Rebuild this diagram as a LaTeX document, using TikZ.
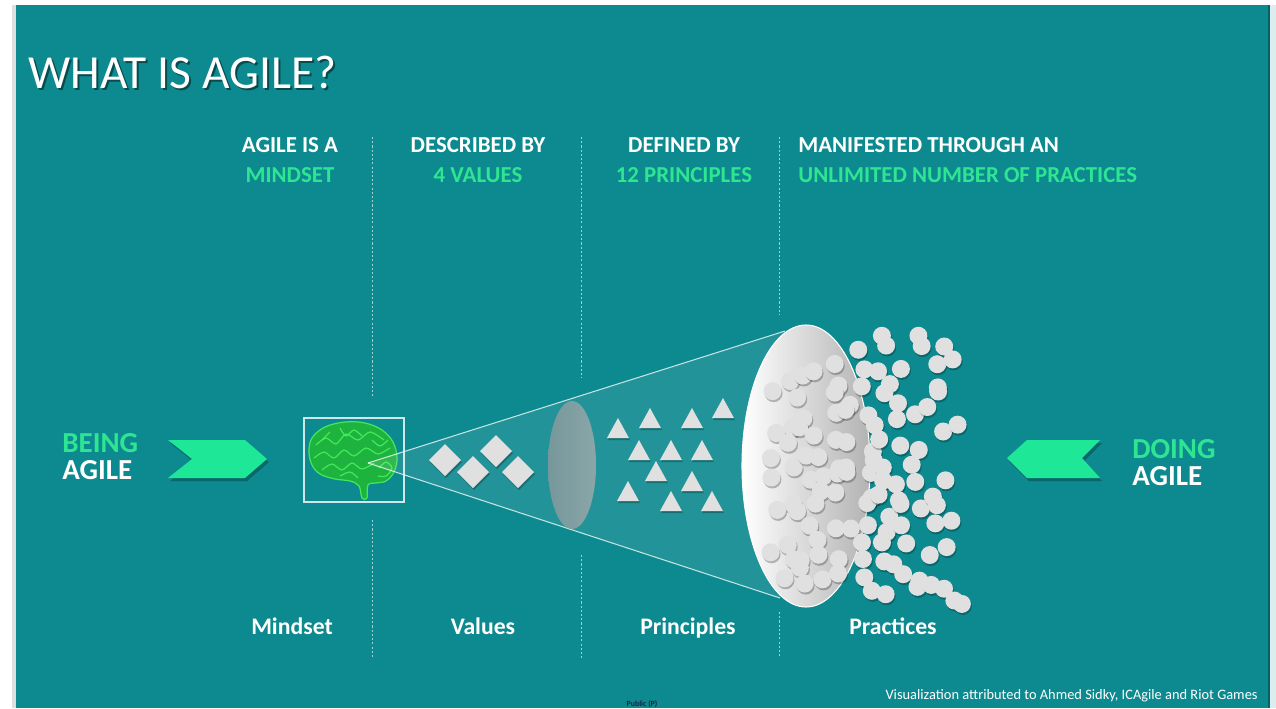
\documentclass[tikz,border=0pt]{standalone}
\usepackage{fontspec}
\setmainfont{Carlito}
\usetikzlibrary{calc}
\definecolor{agileteal}{RGB}{13,138,143}
\definecolor{agilegreen}{RGB}{46,230,146}
\definecolor{arrowgreen}{RGB}{30,232,152}
\definecolor{pillgray}{RGB}{224,224,224}
\definecolor{braingreen}{RGB}{30,178,62}
\definecolor{gyrusgreen}{RGB}{70,240,90}
\definecolor{publicblue}{RGB}{24,36,70}
\tikzset{
  hdr/.style={anchor=base, inner sep=0pt, text=white, font=\bfseries\fontsize{13}{15}\selectfont},
  hdrgreen/.style={hdr, text=agilegreen},
  lbl/.style={anchor=base, inner sep=0pt, text=white, font=\bfseries\fontsize{13.5}{15}\selectfont},
  sideword/.style={anchor=base west, inner sep=0pt, font=\bfseries\fontsize{16.5}{18}\selectfont},
  sepline/.style={white, opacity=0.6, line width=0.5pt, dash pattern=on 1.2pt off 1.2pt},
  coneline/.style={white, opacity=0.75, line width=0.6pt},
  shapeshadow/.style={black, opacity=0.25},
  token/.style={fill=pillgray},
  gyrus/.style={gyrusgreen, line width=0.7pt, opacity=0.9}
}
\begin{document}
\begin{tikzpicture}[x=0.02cm,y=-0.02cm]
\useasboundingbox (0,0) rectangle (1276,708);
% page and slide background
\fill[white] (0,0) rectangle (1276,708);
\fill[gray!25] (12,5) rectangle (16,708);
\fill[agileteal] (16,5) rectangle (1268,708);
\fill[agileteal!70!black] (1268,5) rectangle (1270,708);
\fill[agileteal!15!white] (1270,5) rectangle (1276,708);

% title with its shadow
\node[anchor=base west, inner sep=0pt, text=black, opacity=0.45, font=\fontsize{27}{30}\selectfont] (titleshadow) at (30,90) {WHAT IS AGILE?};
\node[anchor=base west, inner sep=0pt, text=white, font=\fontsize{27}{30}\selectfont] (title) at (28,88) {WHAT IS AGILE?};

% dotted separators
\foreach \x/\a/\b/\c in {372/137/396/520, 581/137/378/555, 779/137/315/612}{
  \draw[sepline] (\x,\a) -- (\x,\b);
  \draw[sepline] (\x,\c) -- (\x,658);
}

% column headers
\node[hdr] (mind1) at (290,152) {AGILE IS A};
\node[hdrgreen] (mind2) at (290,182) {MINDSET};
\node[hdr] (val1) at (478,152) {DESCRIBED BY};
\node[hdrgreen] (val2) at (478,182) {4 VALUES};
\node[hdr] (prin1) at (684,152) {DEFINED BY};
\node[hdrgreen] (prin2) at (684,182) {12 PRINCIPLES};
\node[hdr, anchor=base west] (prac1) at (798,152) {MANIFESTED THROUGH AN};
\node[hdrgreen, anchor=base west] (prac2) at (798,182) {UNLIMITED NUMBER OF PRACTICES};

% brain in its box
\draw[white, opacity=0.8, line width=0.6pt] (304,418) rectangle (404,502);
\fill[braingreen] plot[smooth cycle, tension=0.6] coordinates {(309,452) (312,438) (325,427) (345,422) (365,423) (382,430) (393,442) (397,458) (394,472) (386,481) (376,483) (368,485) (367,498) (362,498) (359,486) (350,481) (335,479) (320,474) (312,465)};
\draw[gyrus] plot[smooth cycle, tension=0.6] coordinates {(309,452) (312,438) (325,427) (345,422) (365,423) (382,430) (393,442) (397,458) (394,472) (386,481) (376,483) (368,485) (367,498) (362,498) (359,486) (350,481) (335,479) (320,474) (312,465)};
\draw[gyrus] plot[smooth] coordinates {(316,445) (326,438) (336,444) (346,434) (358,440) (370,432) (384,440)};
\draw[gyrus] plot[smooth] coordinates {(314,458) (324,452) (334,458) (344,450) (354,456) (366,448) (378,454) (390,448)};
\draw[gyrus] plot[smooth] coordinates {(322,470) (332,464) (342,470) (352,463) (362,469) (374,463)};
\draw[gyrus] plot[smooth] coordinates {(340,428) (346,436) (354,430) (362,436)};
\draw[gyrus] plot[smooth] coordinates {(379,468) (386,462) (392,468) (386,476) (378,476)};
\draw[gyrus] plot[smooth] coordinates {(330,432) (322,440)};
\draw[gyrus] plot[smooth] coordinates {(372,440) (380,446) (388,440)};
\draw[gyrus] plot[smooth] coordinates {(340,476) (350,472) (358,478)};

% cone of the mindset
\coordinate (apex) at (368,463);
\coordinate (conetop) at (785,331);
\coordinate (conebot) at (780,598);
\fill[white, opacity=0.09] (apex) -- (conetop) -- (conebot) -- cycle;
\draw[coneline] (apex) -- (conetop);
\draw[coneline] (apex) -- (conebot);

% four values
\foreach \x/\y in {445/460, 473/472, 496/451, 518/472}{
  \fill[shapeshadow] (\x+1,\y+2) +(0,-16) -- +(16,0) -- +(0,16) -- +(-16,0) -- cycle;
  \fill[token] (\x,\y) +(0,-16) -- +(16,0) -- +(0,16) -- +(-16,0) -- cycle;
}

% lens
\shade[left color={rgb,255:red,128;green,152;blue,156}, right color={rgb,255:red,150;green,168;blue,170}, opacity=0.9] (572,465) ellipse[x radius=24, y radius=64];

% twelve principles
\foreach \x/\y in {618/430, 650/420, 692/420, 723/410, 639/452, 671/452, 702/452, 656/473, 692/483, 628/493, 671/503, 712/503}{
  \fill[shapeshadow] (\x+1,\y+2) +(0,-12) -- +(11,8) -- +(-11,8) -- cycle;
  \fill[token] (\x,\y) +(0,-12) -- +(11,8) -- +(-11,8) -- cycle;
}

% disc of practices
\shade[left color=white, right color=gray!60] (806,466) ellipse[x radius=64, y radius=141];
\draw[white, line width=0.6pt] (806,466) ellipse[x radius=64, y radius=141];

% unlimited practices, on a shaken grid
\pgfmathsetseed{23}
\foreach \gx in {772,788,...,972}{
  \foreach \gy in {334,350,...,606}{
    \pgfmathsetmacro\px{\gx+14*(rnd-0.5)}
    \pgfmathsetmacro\py{\gy+14*(rnd-0.5)}
    \pgfmathsetmacro\hy{\px<858 ? 122*sqrt(max(0,1-((\px-806)/64)*((\px-806)/64))) : 136}
    \pgfmathsetmacro\pk{\px<850 ? 0.62 : (\px<895 ? 0.8 : 0.8-0.008*(\px-895))}
    \pgfmathtruncatemacro\keep{and(abs(\py-468)<\hy, rnd<\pk)}
    \ifnum\keep=1
      \fill[shapeshadow] (\px+1,\py+2) circle[radius=9];
      \fill[token] (\px,\py) circle[radius=9];
    \fi
  }
}

% being agile
\fill[shapeshadow] (170,443) -- (247,443) -- (269,462) -- (247,481) -- (170,481) -- (194,462) -- cycle;
\fill[arrowgreen] (168,440) -- (245,440) -- (267,459) -- (245,478) -- (168,478) -- (192,459) -- cycle;
\node[sideword, text=agilegreen] (being) at (62,452) {BEING};
\node[sideword, text=white] (beingagile) at (62,479) {AGILE};

% doing agile
\fill[shapeshadow] (1009,461) -- (1029,443) -- (1102,443) -- (1084,461) -- (1102,481) -- (1029,481) -- cycle;
\fill[arrowgreen] (1007,458) -- (1027,440) -- (1100,440) -- (1082,458) -- (1100,478) -- (1027,478) -- cycle;
\node[sideword, text=agilegreen] (doing) at (1132,458) {DOING};
\node[sideword, text=white] (doingagile) at (1132,485) {AGILE};

% bottom labels
\node[lbl] (mindset) at (292,634) {Mindset};
\node[lbl] (values) at (483,634) {Values};
\node[lbl] (principles) at (688,634) {Principles};
\node[lbl] (practices) at (893,634) {Practices};

% footer
\node[anchor=base east, inner sep=0pt, text=white, font=\fontsize{8.2}{10}\selectfont] (credit) at (1258,699) {Visualization attributed to Ahmed Sidky, ICAgile and Riot Games};
\node[anchor=base, inner sep=0pt, text=publicblue, font=\bfseries\fontsize{4.5}{5}\selectfont] (public) at (642,706) {Public (P)};
\end{tikzpicture}
\end{document}
